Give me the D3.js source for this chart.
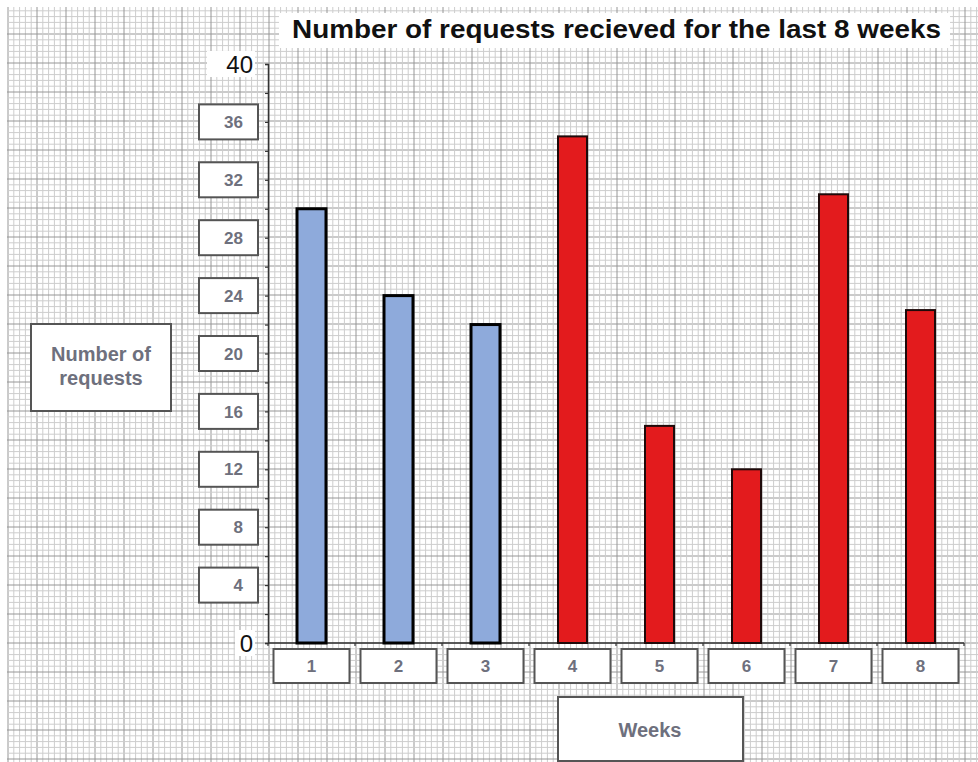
<!DOCTYPE html>
<html>
<head>
<meta charset="utf-8">
<script src="https://cdn.jsdelivr.net/npm/d3@7"></script>
<style>
  html, body { margin: 0; padding: 0; background: #fff; }
  svg { display: block; font-family: "Liberation Sans", Arial, sans-serif; }
</style>
</head>
<body>
<div id="chart"></div>
<script>
// chart data
const weeks = ["1", "2", "3", "4", "5", "6", "7", "8"];
const requests = [30, 24, 22, 35, 15, 12, 31, 23];
const periods = ["earlier", "earlier", "earlier", "recent", "recent", "recent", "recent", "recent"];
const boxedTicks = [4, 8, 12, 16, 20, 24, 28, 32, 36];
const endTicks = [0, 40];

const title = "Number of requests recieved for the last 8 weeks";
const yTitle = ["Number of", "requests"];
const xTitle = "Weeks";

const width = 978;
const height = 762;
const labelGray = "#6e707d";

const svg = d3.select("#chart")
  .append("svg")
  .attr("width", width)
  .attr("height", height);

// graph paper background
const paper = svg.append("g").attr("class", "paper");
const gx0 = 7, gy0 = 7;
const minor = 29 / 5;
d3.range(0, 200).forEach(i => {
  const x = 8 + (i - 5) * minor;
  if (x >= gx0 && x <= width) {
    paper.append("line")
      .attr("x1", x).attr("x2", x).attr("y1", gy0).attr("y2", height)
      .attr("stroke", i % 5 === 0 ? "#969696" : "#cdcdcd")
      .attr("stroke-width", 1);
  }
  const y = 5 + (i - 5) * minor;
  if (y >= gy0 && y <= height) {
    paper.append("line")
      .attr("x1", gx0).attr("x2", width).attr("y1", y).attr("y2", y)
      .attr("stroke", i % 5 === 0 ? "#969696" : "#cdcdcd")
      .attr("stroke-width", 1);
  }
});

// scales
const x = d3.scaleBand()
  .domain(weeks)
  .range([268, 964])
  .paddingInner(2 / 3)
  .paddingOuter(1 / 3);

const y = d3.scaleLinear()
  .domain([0, 40])
  .range([643, 64]);

const color = d3.scaleOrdinal()
  .domain(["earlier", "recent"])
  .range(["#8eaadb", "#e31b1d"]);

// title
svg.append("rect")
  .attr("x", 279).attr("y", 13)
  .attr("width", 671).attr("height", 35)
  .attr("fill", "#fff");
svg.append("text")
  .attr("x", 292).attr("y", 38)
  .attr("font-size", 25)
  .attr("font-weight", "bold")
  .attr("fill", "#111")
  .attr("textLength", 649)
  .attr("lengthAdjust", "spacingAndGlyphs")
  .text(title);

// y axis
const yAxis = svg.append("g")
  .attr("transform", "translate(268,0)")
  .call(d3.axisLeft(y).tickValues(d3.range(0, 41, 2)).tickSize(3).tickFormat(""));
yAxis.select(".domain").attr("stroke", "#333").attr("stroke-width", 1.5);
yAxis.selectAll(".tick line").attr("stroke", "#333").attr("stroke-width", 1.2);

// boxed y tick labels
const yLabels = svg.append("g")
  .selectAll("g")
  .data(boxedTicks)
  .join("g")
  .attr("transform", d => `translate(0,${y(d)})`);
yLabels.append("rect")
  .attr("x", 199).attr("y", -17.5)
  .attr("width", 59).attr("height", 35)
  .attr("fill", "#fff")
  .attr("stroke", "#555")
  .attr("stroke-width", 2);
yLabels.append("text")
  .attr("x", 243).attr("dy", "0.36em")
  .attr("text-anchor", "end")
  .attr("font-size", 17)
  .attr("font-weight", "bold")
  .attr("fill", labelGray)
  .text(d => d);

// big 0 and 40
const endLabels = svg.append("g")
  .selectAll("g")
  .data(endTicks)
  .join("g")
  .attr("transform", d => `translate(0,${y(d)})`);
endLabels.append("rect")
  .attr("x", d => d === 40 ? 207 : 235).attr("y", -13)
  .attr("width", d => d === 40 ? 48 : 20).attr("height", 26)
  .attr("fill", "#fff");
endLabels.append("text")
  .attr("x", 253).attr("dy", "0.36em")
  .attr("text-anchor", "end")
  .attr("font-size", 24)
  .attr("fill", "#111")
  .text(d => d);

// x axis
const step = x.step();
const bounds = weeks.map(w => x(w) - (step - x.bandwidth()) / 2).concat([x.range()[1]]);
svg.append("line")
  .attr("x1", 268).attr("x2", x.range()[1])
  .attr("y1", y(0)).attr("y2", y(0))
  .attr("stroke", "#333").attr("stroke-width", 1.5);
svg.append("g")
  .selectAll("line")
  .data(bounds)
  .join("line")
  .attr("x1", d => d).attr("x2", d => d)
  .attr("y1", y(0)).attr("y2", y(0) + 3)
  .attr("stroke", "#333").attr("stroke-width", 1.2);

// x tick label boxes
const xLabels = svg.append("g")
  .selectAll("g")
  .data(weeks)
  .join("g")
  .attr("transform", d => `translate(${x(d) + x.bandwidth() / 2},666)`);
xLabels.append("rect")
  .attr("x", -38).attr("y", -17)
  .attr("width", 76).attr("height", 34)
  .attr("fill", "#fff")
  .attr("stroke", "#555")
  .attr("stroke-width", 2);
xLabels.append("text")
  .attr("dy", "0.36em")
  .attr("text-anchor", "middle")
  .attr("font-size", 17)
  .attr("font-weight", "bold")
  .attr("fill", labelGray)
  .text(d => d);

// bars
svg.append("g")
  .selectAll("rect")
  .data(weeks.map((w, i) => ({ week: w, value: requests[i], period: periods[i] })))
  .join("rect")
  .attr("x", d => x(d.week))
  .attr("y", d => y(d.value))
  .attr("width", x.bandwidth())
  .attr("height", d => y(0) - y(d.value))
  .attr("fill", d => color(d.period))
  .attr("stroke", d => d.period === "earlier" ? "#000" : "#1e0a0a")
  .attr("stroke-width", d => d.period === "earlier" ? 3 : 2);

// y title box
svg.append("rect")
  .attr("x", 31).attr("y", 324)
  .attr("width", 140).attr("height", 87)
  .attr("fill", "#fff")
  .attr("stroke", "#555")
  .attr("stroke-width", 2);
svg.append("g")
  .selectAll("text")
  .data(yTitle)
  .join("text")
  .attr("x", 101)
  .attr("y", (d, i) => 361 + i * 24)
  .attr("text-anchor", "middle")
  .attr("font-size", 20)
  .attr("font-weight", "bold")
  .attr("fill", labelGray)
  .text(d => d);

// x title box
svg.append("rect")
  .attr("x", 558).attr("y", 697)
  .attr("width", 185).attr("height", 64)
  .attr("fill", "#fff")
  .attr("stroke", "#555")
  .attr("stroke-width", 2);
svg.append("text")
  .attr("x", 650).attr("y", 737)
  .attr("text-anchor", "middle")
  .attr("font-size", 20)
  .attr("font-weight", "bold")
  .attr("fill", labelGray)
  .text(xTitle);
</script>
</body>
</html>
